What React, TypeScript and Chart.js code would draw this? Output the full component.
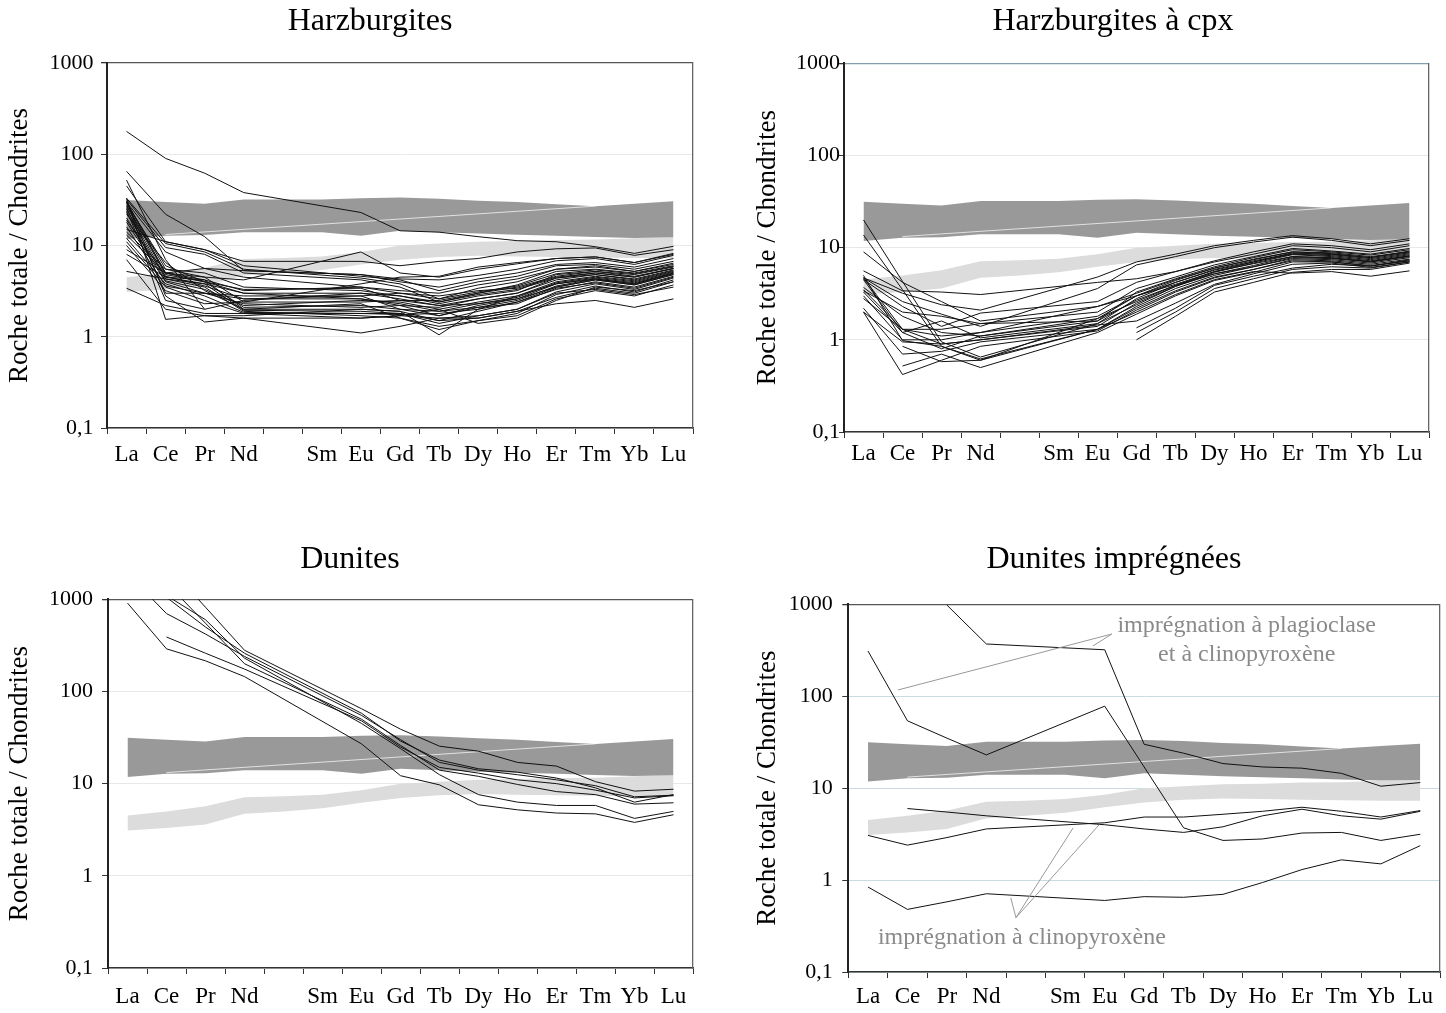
import React, { useEffect, useRef } from 'react';
import { Chart, registerables } from 'chart.js';

Chart.register(...registerables);

const FONT = "'Liberation Serif', 'Times New Roman', Times, serif";

// ---------- categories & axis ----------
const elementLabels = ['La', 'Ce', 'Pr', 'Nd', '', 'Sm', 'Eu', 'Gd', 'Tb', 'Dy', 'Ho', 'Er', 'Tm', 'Yb', 'Lu'];
const yTickValues = [0.1, 1, 10, 100, 1000];
const yTickLabels = ['0,1', '1', '10', '100', '1000'];
const yAxisTitle = 'Roche totale / Chondrites';

// ---------- reference fields (15 slots, La..Lu incl. Pm) ----------
const darkBandTop = [31.5, 30, 28.7, 32, 32, 32, 33, 33.5, 32.5, 31, 30, 28.3, 27, 28.7, 30.5];
const darkBandBottom = [11.8, 12.8, 13, 14, 14, 14, 12.8, 14.5, 14, 13.5, 13.1, 12.8, 12.4, 12.1, 12.3];
const lightBandTop = [4.5, 5.0, 5.7, 7.1, 7.3, 7.6, 8.5, 10, 10.5, 11, 11.2, 11.5, 11.6, 12, 12.3];
const lightBandBottom = [3.1, 3.3, 3.6, 4.7, 5.0, 5.4, 6.2, 7.0, 7.5, 7.7, 7.6, 7.5, 7.4, 7.3, 7.3];
const bandCrossLine = [null, 13.2, null, null, null, null, null, null, null, null, null, null, 27, null, null];

// ---------- samples: La Ce Pr Nd Eu Gd Tb Dy Ho Er Tm Yb Lu (Pm, Sm not analysed) ----------
const harzburgites: (number | null)[][] = [
  [178, 90, 62, 38, 23, 14.5, 14, 12.5, 11.3, 11, 9.7, 8.2, 9.8],
  [65, 22, 12.5, 5.3, 4.8, 4.0, 3.5, 4.3, 5.0, 6.2, 6.5, 5.8, 7.2],
  [52, 7, 2.0, null, null, null, null, null, null, null, null, null, null],
  [45, 11, 9, 6.0, 4.6, 4.2, 3.2, 4.0, 4.6, 6.0, 6.2, 5.5, 6.7],
  [33, 10.5, 8.5, 5.5, 4.4, 3.8, 2.6, 3.4, 4.0, 5.5, 5.8, 5.2, 6.4],
  [32, 9.5, 8, 5, 4.2, 3.5, 2.4, 3.0, 3.7, 5.2, 5.5, 5.0, 6.0],
  [30, 5.5, 4.5, 2.4, 3.8, 4.5, 4.6, 5.8, 6.5, 7.2, 7.5, 6.5, 8.2],
  [28, 5, 4.2, 2.0, 2.0, 1.9, 1.5, 1.9, 2.4, 3.5, 4.2, 3.7, 4.8],
  [27, 4.8, 4, 2.1, 2.2, 2.0, 1.7, 2.2, 2.6, 3.8, 4.4, 3.9, 5.0],
  [25, 4.5, 3.8, 1.95, 1.9, 1.8, 1.4, 1.7, 2.0, 3.1, 3.8, 3.3, 4.4],
  [30, 8.5, 5.6, 4.5, 3.5, 3.0, 2.8, 3.2, 3.4, 4.5, 5.0, 4.5, 5.6],
  [23, 4.3, 3.5, 1.9, 1.7, 1.6, 1.3, 1.5, 1.8, 2.9, 3.6, 3.1, 4.2],
  [20, 4.1, 3.3, 2.2, 2.5, 2.4, 2.0, 2.4, 2.8, 4.0, 4.6, 4.1, 5.2],
  [18, 4.0, 3.0, 2.6, 2.6, 2.2, 2.1, 2.6, 3.0, 4.2, 4.8, 4.3, 5.4],
  [15, 11, 9, 6.7, 6.7, 6.0, 6.7, 7.2, 8.5, 9.2, 9.4, 7.8, 9.0],
  [14, 5.5, 5.0, 3.5, 3.2, 2.8, 2.3, 2.8, 3.2, 4.8, 5.2, 4.8, 5.8],
  [13, 5, 4.0, 3.0, 3.0, 2.6, 2.2, 2.6, 3.0, 4.4, 5.0, 4.5, 5.6],
  [12, 3.8, 2.8, 1.85, 1.8, 1.75, 1.8, 2.0, 2.4, 3.3, 4.0, 3.5, 4.6],
  [11, 3.5, 2.5, 1.8, 1.6, 1.7, 1.6, 1.6, 1.9, 2.7, 3.4, 3.0, 4.0],
  [10, 3.2, 2.3, 2.4, 2.4, 2.5, 2.2, 2.3, 2.6, 3.5, 4.2, 3.7, 4.8],
  [9, 5, 5.6, 5.3, 4.8, 4.3, 4.2, 4.7, 5.5, 6.8, 7.2, 6.2, 7.8],
  [8, 4.5, 4.2, 3.2, 3.5, 3.2, 3.0, 3.7, 4.3, 5.5, 6.0, 5.2, 6.2],
  [7, 2.0, 1.7, 1.6, 1.1, 1.3, 1.6, 1.7, 2.0, 3.0, 3.3, 2.9, 3.5],
  [30, 5, 4.5, 4.2, 8.5, 5.0, 4.5, 5.5, 6.3, 7.2, 7.5, 6.5, 8.0],
  [5.2, 4.3, 3.8, 3.0, 2.6, 2.3, 1.9, 2.1, 2.5, 3.6, 4.3, 3.8, 4.9],
  [3.4, 2.2, 1.8, 1.8, 1.8, 1.8, 1.5, 1.6, 1.9, 2.3, 2.5, 2.1, 2.6],
  [33, 1.55, 1.7, 1.7, 2.0, 1.9, 1.05, 2.0, 2.8, 3.8, 4.3, 3.8, 5.0],
  [31, 2.8, 1.45, 1.6, 1.6, 1.7, 2.0, 1.4, 1.6, 2.5, 3.5, 3.2, 4.0],
  [29, 6, 4, 3.3, 3.4, 2.5, 2.5, 3.0, 3.5, 4.6, 5.2, 4.6, 5.6],
  [26, 3.0, 3.0, 2.8, 2.8, 2.0, 1.9, 2.3, 2.7, 3.9, 4.5, 4.0, 5.1],
  [24, 2.5, 2.0, 2.5, 3.0, 2.8, 2.4, 2.9, 3.3, 4.4, 4.8, 4.2, 5.3],
  [16, 3.6, 3.0, 2.3, 2.1, 2.2, 1.7, 2.1, 2.3, 3.4, 3.9, 3.4, 4.5],
  [22, 6.5, 3.2, 2.0, 2.3, 1.6, 1.2, 1.5, 1.7, 2.6, 3.2, 2.8, 3.7],
  [19, 4.6, 3.6, 2.6, 2.8, 3.0, 2.6, 3.1, 3.6, 4.9, 5.4, 4.9, 5.9],
];

const harzburgitesCpx: (number | null)[][] = [
  [20, 4.3, 0.95, 0.65, 1.5, 2.4, 3.8, 5.2, 6.2, 7.6, 7.4, 6.8, 7.8],
  [13.7, 3.5, 0.85, 0.62, 1.3, 2.2, 3.4, 4.8, 5.8, 7.2, 7.0, 6.3, 7.4],
  [9, 4.2, 2.6, 1.6, 2.3, 3.2, 4.5, 6.0, 7.5, 9.0, 8.6, 7.8, 9.2],
  [5.6, 3.4, 3.3, 3.1, 4.2, 4.6, 5.5, 7.0, 8.5, 10.5, 10, 9.0, 10.5],
  [4.7, 3.2, 2.4, 2.1, 4.8, 7.0, 8.5, 10.5, 12, 13.5, 12.5, 11, 12.5],
  [4.7, 2.6, 1.9, 1.4, 3.6, 6.5, 8.0, 10, 11.5, 13.0, 12, 10.5, 12],
  [4.5, 2.3, 1.4, 1.95, 2.6, 4.2, 5.5, 7.2, 9.0, 11, 10.5, 9.5, 11],
  [3.7, 1.8, 1.2, 1.1, 1.6, 3.3, 4.6, 6.2, 7.8, 9.5, 9.0, 8.3, 9.5],
  [3.5, 1.3, 1.3, 1.5, 2.0, 3.6, 4.8, 6.5, 8.0, 9.8, 9.2, 8.5, 9.8],
  [3.3, 1.2, 1.6, 1.05, 1.5, 2.8, 4.2, 5.7, 7.0, 8.8, 8.4, 7.6, 8.8],
  [3.0, 1.0, 1.0, 1.2, 1.8, 3.0, 4.4, 6.0, 7.4, 9.0, 8.8, 8.0, 9.0],
  [2.8, 1.3, 0.9, 1.0, 1.4, 2.5, 3.8, 5.4, 6.8, 8.4, 8.0, 7.2, 8.4],
  [2.2, 0.7, 0.75, 0.95, 1.3, 2.3, 3.6, 5.0, 6.2, 7.8, 7.6, 7.0, 8.0],
  [2.0, 0.42, 0.6, 0.85, 1.25, 2.1, 3.3, 4.7, 5.8, 7.4, 7.2, 6.6, 7.5],
  [null, 0.52, 0.7, 0.5, 1.2, 1.9, 3.0, 4.4, 5.4, 7.0, 7.0, 6.4, 7.2],
  [null, 0.85, 0.58, 0.6, 1.7, 2.6, 3.9, 5.5, 6.7, 8.0, 7.8, 7.0, 8.2],
  [4.5, 1.2, 0.8, 1.1, 1.7, 3.0, 4.0, 5.5, 7.0, 8.5, 8.2, 7.4, 8.6],
  [null, null, null, null, null, 1.0, 1.8, 3.3, 4.2, 5.4, 5.8, 5.8, 6.8],
  [null, null, null, null, null, 1.2, 2.0, 3.6, 4.6, 5.8, 6.2, 6.0, 7.0],
  [null, null, null, null, null, 1.35, 2.2, 3.9, 4.9, 6.0, 6.6, 6.3, 7.2],
  [2.0, 0.95, 0.9, 1.0, 1.45, 1.6, 2.5, 4.0, 5.2, 6.6, 6.8, 6.1, 7.0],
  [4.7, 1.3, 1.1, 1.2, 2.3, 3.0, 4.2, 5.8, 7.2, 8.6, 8.5, 7.8, 9.0],
  [3.4, 2.0, 1.8, 1.5, 1.6, 2.7, 3.9, 5.2, 6.4, 8.0, 7.7, 7.1, 8.1],
  [5.0, 0.98, 0.85, 0.6, 1.3, 2.0, 3.1, 4.5, 5.5, 5.3, 5.5, 4.9, 5.6],
];

const dunites: (number | null)[][] = [
  [910, 290, 215, 145, 27, 12.2, 9.7, 5.9, 5.2, 4.8, 4.7, 3.8, 4.6],
  [null, 390, 260, 175, 48, 25, 15, 13, 11, 10, 8.5, 7.0, 7.4],
  [1900, 700, 420, 240, 55, 30, 17, 14, 12.5, 11, 9.5, 7.2, 7.5],
  [null, 1050, 500, 260, 58, 29, 18, 14.5, 13.3, 11.5, 9.0, 6.3, 7.6],
  [null, 1500, 550, 200, 50, 26, 14, 12, 9.8, 8.2, 7.6, 6.0, 6.2],
  [null, 2400, 820, 280, 65, 39, 25.5, 22.5, 17, 15.5, 10.5, 8.3, 8.7],
  [null, 1100, 600, 230, 45, 24, 12.5, 7.6, 6.3, 5.8, 5.8, 4.2, 5.0],
];

const dunitesImpregnees: (number | null)[][] = [
  [null, null, 980, 370, 320, 30, 24, 18.5, 17, 16.5, 14.5, 10.5, 11.5],
  [310, 54, 35, 23, 78, 17, 3.7, 2.7, 2.8, 3.25, 3.3, 2.7, 3.15],
  [null, 6.0, 5.5, 5.0, 4.0, 3.6, 3.3, 3.8, 5.0, 5.9, 5.0, 4.6, 5.6],
  [3.06, 2.4, 2.9, 3.6, 4.2, 4.85, 4.85, 5.2, 5.6, 6.2, 5.6, 4.85, 5.7],
  [0.84, 0.48, 0.58, 0.71, 0.6, 0.66, 0.65, 0.7, 0.94, 1.3, 1.66, 1.5, 2.37],
];

// ---------- annotations of last panel (category index, value) ----------
const annotationTexts = [
  { text: 'imprégnation à plagioclase', x: 9.6, y: 581 },
  { text: 'et à clinopyroxène', x: 9.6, y: 286 },
  { text: 'imprégnation à clinopyroxène', x: 3.9, y: 0.234 },
];
const leaderLines: [number, number][][] = [
  [[0.76, 117], [6.18, 475]],
  [[5.7, 352], [6.18, 475]],
  [[3.75, 0.39], [5.2, 3.7]],
  [[3.75, 0.39], [5.86, 4.0]],
  [[3.75, 0.39], [3.62, 0.64]],
];

// insert Pm and Sm gaps
const withGaps = (row: (number | null)[]) => [row[0], row[1], row[2], row[3], null, null, ...row.slice(4)];

type PanelCfg = {
  title: string;
  left: number; top: number; width: number; height: number;
  titlePadTop: number; titlePadBottom: number;
  yWidth: number; yTitlePad: number; yTickPad: number; yTickLen: number;
  rightWidth: number; xHeight: number; xTickPad: number;
  gridColor: string; topColor: string;
  lines: (number | null)[][];
  annotate?: boolean;
};

const panels: PanelCfg[] = [
  {
    title: 'Harzburgites', left: 0, top: 0, width: 740, height: 478,
    titlePadTop: 2.3, titlePadBottom: 22.3,
    yWidth: 107, yTitlePad: 4, yTickPad: 7.5, yTickLen: 6,
    rightWidth: 47, xHeight: 50, xTickPad: 7.5,
    gridColor: '#e8e8e8', topColor: '#555555', lines: harzburgites,
  },
  {
    title: 'Harzburgites à cpx', left: 740, top: 0, width: 746, height: 482,
    titlePadTop: 2.3, titlePadBottom: 22.6,
    yWidth: 104, yTitlePad: 12, yTickPad: -1, yTickLen: 5,
    rightWidth: 57, xHeight: 50, xTickPad: 2,
    gridColor: '#e8e8e8', topColor: '#7f9fae', lines: harzburgitesCpx,
  },
  {
    title: 'Dunites', left: 0, top: 530, width: 700, height: 488,
    titlePadTop: 10.8, titlePadBottom: 20.1,
    yWidth: 108, yTitlePad: 4, yTickPad: 9, yTickLen: 6,
    rightWidth: 7, xHeight: 50, xTickPad: 9,
    gridColor: '#e8e8e8', topColor: '#555555', lines: dunites,
  },
  {
    title: 'Dunites imprégnées', left: 740, top: 530, width: 748, height: 492,
    titlePadTop: 10.8, titlePadBottom: 25.1,
    yWidth: 108.3, yTitlePad: 12, yTickPad: 9.6, yTickLen: 6,
    rightWidth: 48, xHeight: 50, xTickPad: 5.4,
    gridColor: '#c9dce3', topColor: '#555555', lines: dunitesImpregnees, annotate: true,
  },
];

const annotationPlugin = {
  id: 'impregnationNotes',
  afterDatasetsDraw(chart: any) {
    const { ctx } = chart;
    const xs = chart.scales.x;
    const ys = chart.scales.y;
    ctx.save();
    ctx.strokeStyle = '#999999';
    ctx.lineWidth = 1;
    for (const seg of leaderLines) {
      ctx.beginPath();
      seg.forEach(([ix, v], i) => {
        const px = xs.getPixelForValue(ix);
        const py = ys.getPixelForValue(v);
        if (i === 0) ctx.moveTo(px, py); else ctx.lineTo(px, py);
      });
      ctx.stroke();
    }
    ctx.fillStyle = '#8a8a8a';
    ctx.font = `24px ${FONT}`;
    ctx.textAlign = 'center';
    ctx.textBaseline = 'middle';
    for (const t of annotationTexts) {
      ctx.fillText(t.text, xs.getPixelForValue(t.x), ys.getPixelForValue(t.y));
    }
    ctx.restore();
  },
};

function Panel({ cfg }: { cfg: PanelCfg }) {
  const ref = useRef<HTMLCanvasElement | null>(null);

  useEffect(() => {
    if (!ref.current) return;
    const bandBase = { pointRadius: 0, borderWidth: 0, borderColor: 'rgba(0,0,0,0)', tension: 0, order: 2 };
    const datasets: any[] = [
      { ...bandBase, data: darkBandBottom, fill: false },
      { ...bandBase, data: darkBandTop, fill: '-1', backgroundColor: '#999999' },
      { ...bandBase, data: lightBandBottom, fill: false },
      { ...bandBase, data: lightBandTop, fill: '-1', backgroundColor: '#dcdcdc' },
      { data: bandCrossLine, borderColor: 'rgba(255,255,255,0.7)', borderWidth: 1, pointRadius: 0, spanGaps: true, fill: false, order: 1 },
      ...cfg.lines.map((r) => ({
        data: withGaps(r),
        borderColor: '#111111',
        borderWidth: 1,
        pointRadius: 0,
        tension: 0,
        spanGaps: true,
        fill: false,
        order: 0,
      })),
    ];

    const chart = new Chart(ref.current, {
      type: 'line',
      data: { labels: elementLabels, datasets },
      plugins: cfg.annotate ? [annotationPlugin] : [],
      options: {
        animation: false,
        responsive: false,
        maintainAspectRatio: false,
        devicePixelRatio: 1,
        layout: { padding: 0 },
        events: [],
        plugins: {
          legend: { display: false },
          tooltip: { enabled: false },
          title: {
            display: true,
            text: cfg.title,
            color: '#000000',
            font: { family: FONT, size: 32, weight: 'normal' },
            padding: { top: cfg.titlePadTop, bottom: cfg.titlePadBottom },
          },
        },
        scales: {
          x: {
            type: 'category',
            offset: true,
            grid: { offset: true, drawOnChartArea: false, drawTicks: true, tickLength: 6, tickColor: '#333333' },
            border: { color: '#333333', width: 1.5 },
            ticks: { color: '#000000', font: { family: FONT, size: 23 }, padding: cfg.xTickPad, autoSkip: false, maxRotation: 0 },
            afterFit: (s: any) => { s.height = cfg.xHeight; },
          },
          y: {
            type: 'logarithmic',
            position: 'left',
            min: 0.1,
            max: 1000,
            afterBuildTicks: (s: any) => { s.ticks = yTickValues.map((v) => ({ value: v })); },
            ticks: {
              color: '#000000',
              font: { family: FONT, size: 22 },
              padding: cfg.yTickPad,
              autoSkip: false,
              callback: (v: any) => {
                const i = yTickValues.indexOf(Number(v));
                return i >= 0 ? yTickLabels[i] : '';
              },
            },
            grid: {
              color: (c: any) => (c.tick && c.tick.value === 1000 ? cfg.topColor : cfg.gridColor),
              lineWidth: (c: any) => (c.tick && c.tick.value === 1000 ? 1.3 : 1),
              tickColor: '#333333',
              tickLength: cfg.yTickLen,
            },
            border: { color: '#222222', width: 2 },
            title: {
              display: true,
              text: yAxisTitle,
              color: '#000000',
              font: { family: FONT, size: 27 },
              padding: { top: cfg.yTitlePad, bottom: 0 },
            },
            afterFit: (s: any) => { s.width = cfg.yWidth; },
          },
          y2: {
            type: 'linear',
            position: 'right',
            display: true,
            grid: { display: false, drawTicks: false },
            ticks: { display: false },
            border: { display: true, color: '#666666', width: 1.3 },
            afterFit: (s: any) => { s.width = cfg.rightWidth; },
          },
        },
      } as any,
    });
    return () => chart.destroy();
  }, [cfg]);

  return (
    <canvas
      ref={ref}
      width={cfg.width}
      height={cfg.height}
      style={{ position: 'absolute', left: cfg.left, top: cfg.top, width: cfg.width, height: cfg.height }}
    />
  );
}

export default function App() {
  return (
    <div style={{ position: 'absolute', left: 0, top: 0, width: 1446, height: 1013, overflow: 'hidden', background: '#ffffff' }}>
      {panels.map((p) => (
        <Panel key={p.title} cfg={p} />
      ))}
    </div>
  );
}
